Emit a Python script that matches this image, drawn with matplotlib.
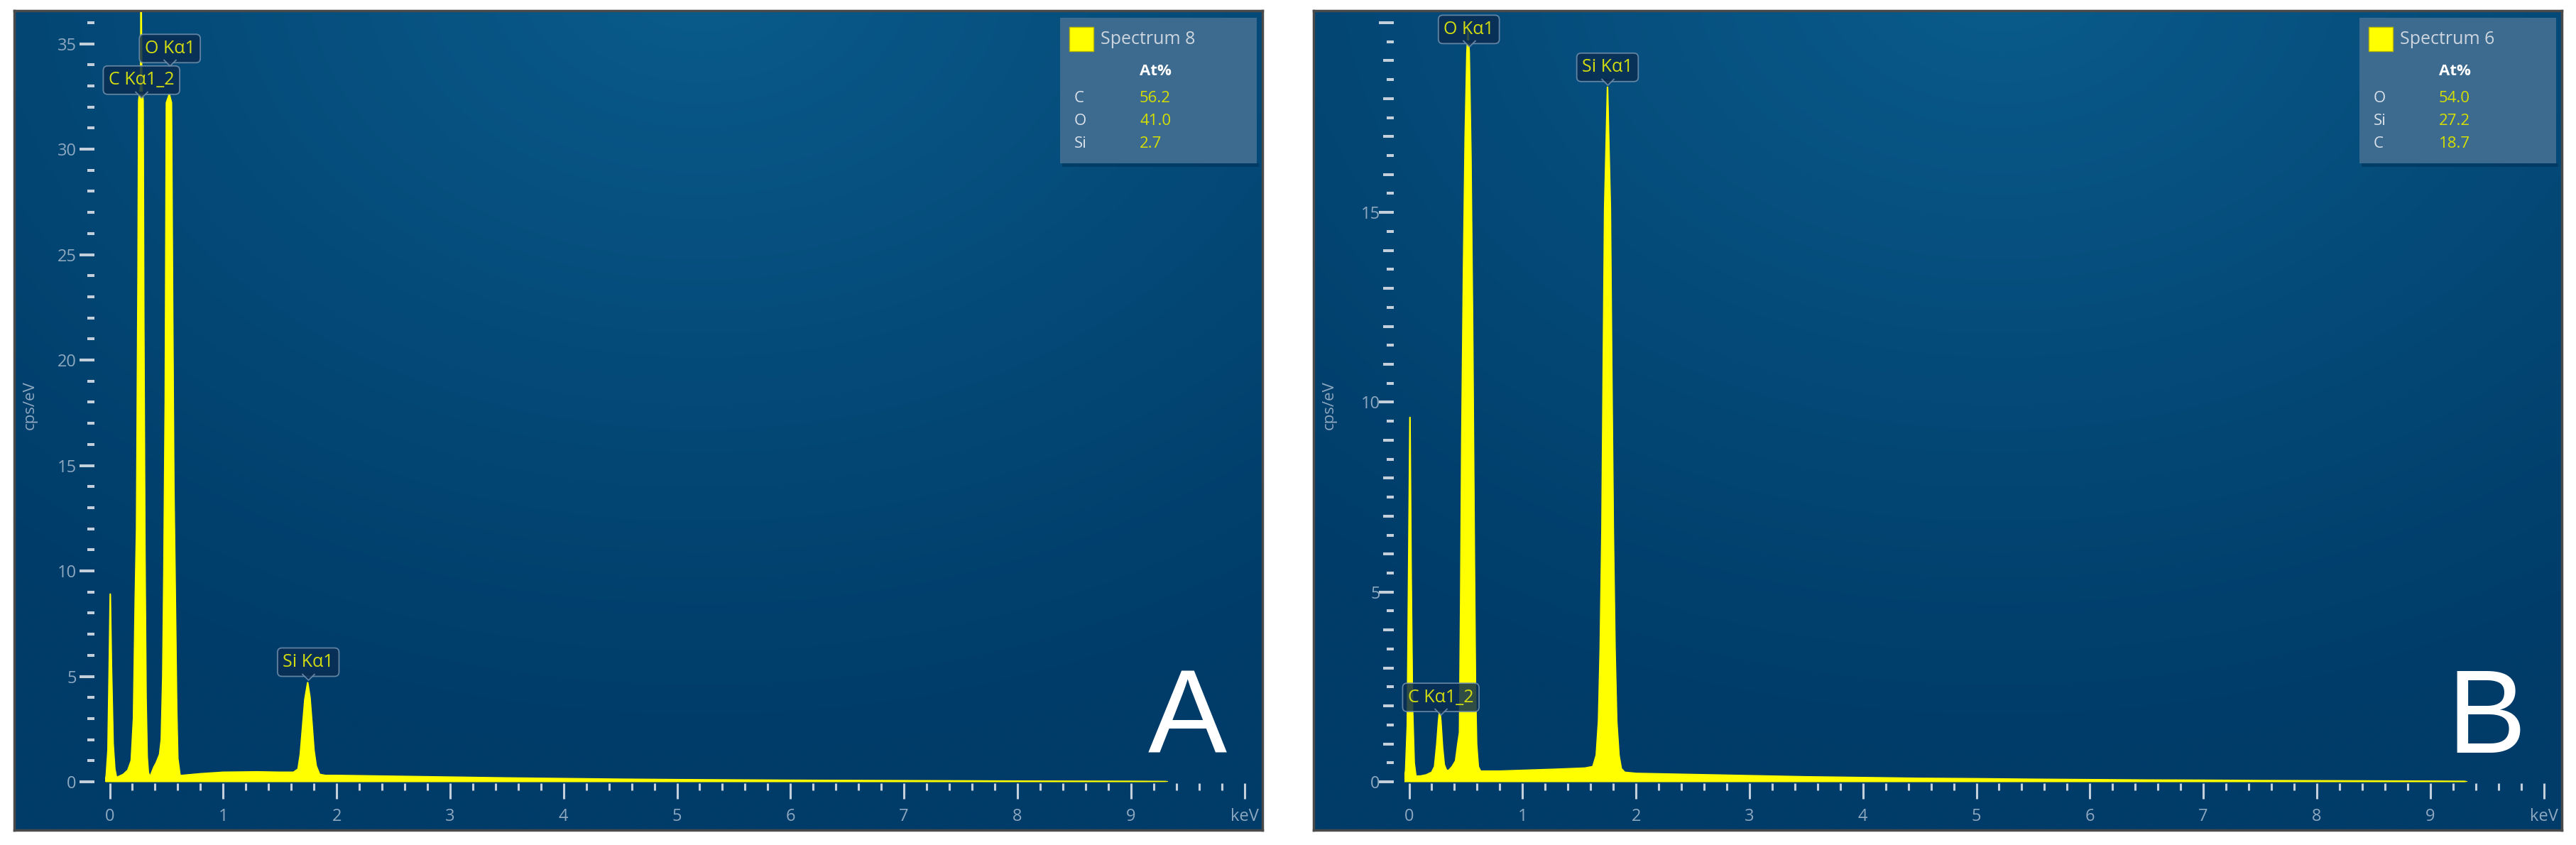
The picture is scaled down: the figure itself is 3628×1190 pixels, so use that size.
import numpy as np
import matplotlib
matplotlib.use("Agg")
import matplotlib.pyplot as plt
from matplotlib.ticker import MultipleLocator, FixedLocator, FuncFormatter
from matplotlib.patches import FancyBboxPatch, Rectangle
from matplotlib.path import Path

plt.rcParams["font.family"] = ["Open Sans", "DejaVu Sans"]

# ---- data ----
a_energy = [-0.04, -0.03, -0.015, -0.005, 0.005, 0.015, 0.03, 0.045, 0.06, 0.08, 0.12, 0.16,
            0.19, 0.21, 0.225, 0.237, 0.25, 0.256, 0.272, 0.277, 0.282, 0.294, 0.30, 0.31,
            0.32, 0.33, 0.34, 0.35, 0.36, 0.39, 0.41, 0.44, 0.455, 0.468, 0.478, 0.49, 0.50,
            0.525, 0.544, 0.555, 0.565, 0.575, 0.59, 0.60, 0.62, 0.64, 0.8, 1.0, 1.3, 1.5,
            1.62, 1.66, 1.68, 1.70, 1.72, 1.745, 1.765, 1.785, 1.80, 1.82, 1.85, 1.9, 2.0,
            2.5, 3.0, 3.5, 4.0, 4.5, 5.0, 5.5, 6.0, 6.5, 7.0, 7.5, 8.0, 8.5, 9.0, 9.3, 9.32]
a_counts = [0.0, 0.3, 1.5, 5.0, 8.9, 5.5, 1.8, 0.6, 0.2, 0.25, 0.35, 0.55,
            1.0, 3.0, 8.5, 12.0, 24.0, 32.3, 33.0, 37.6, 33.0, 32.3, 22.0, 11.0,
            4.0, 1.2, 0.45, 0.3, 0.3, 0.7, 0.9, 1.3, 2.0, 5.0, 10.0, 18.0, 32.2,
            32.6, 32.2, 22.0, 14.0, 10.0, 3.5, 1.1, 0.3, 0.3, 0.38, 0.45, 0.47, 0.45,
            0.45, 0.6, 1.3, 2.6, 3.9, 4.7, 4.0, 2.6, 1.5, 0.75, 0.35, 0.3, 0.3,
            0.26, 0.22, 0.18, 0.15, 0.12, 0.1, 0.085, 0.07, 0.06, 0.05, 0.04, 0.03, 0.025, 0.02, 0.01, 0.0]

b_energy = [-0.045, -0.03, -0.015, -0.005, 0.008, 0.018, 0.03, 0.045, 0.06, 0.1, 0.15, 0.2,
            0.225, 0.245, 0.26, 0.27, 0.28, 0.295, 0.31, 0.33, 0.35, 0.38, 0.41, 0.43, 0.445,
            0.455, 0.465, 0.48, 0.495, 0.51, 0.52, 0.53, 0.545, 0.56, 0.575, 0.585, 0.595,
            0.61, 0.63, 0.8, 1.0, 1.3, 1.55, 1.62, 1.65, 1.67, 1.685, 1.70, 1.712, 1.724,
            1.749, 1.774, 1.786, 1.80, 1.815, 1.83, 1.85, 1.87, 1.9, 2.0, 2.5, 3.0, 3.5,
            4.0, 4.5, 5.0, 5.5, 6.0, 6.5, 7.0, 7.5, 8.0, 8.5, 9.0, 9.3, 9.32]
b_counts = [0.0, 0.3, 1.5, 5.0, 9.6, 5.5, 2.0, 0.5, 0.15, 0.15, 0.18, 0.25,
            0.4, 1.0, 1.6, 1.9, 1.6, 0.9, 0.45, 0.3, 0.3, 0.4, 0.55, 1.0, 1.3,
            4.7, 9.0, 13.5, 17.0, 19.2, 19.8, 19.2, 16.5, 12.0, 6.0, 2.5, 1.0,
            0.4, 0.28, 0.28, 0.3, 0.33, 0.36, 0.4, 0.7, 1.6, 3.5, 6.6, 11.0, 15.1,
            18.3, 15.1, 11.0, 6.6, 3.5, 1.6, 0.7, 0.35, 0.25, 0.22, 0.19, 0.16, 0.13,
            0.11, 0.09, 0.08, 0.065, 0.055, 0.045, 0.04, 0.03, 0.025, 0.02, 0.015, 0.01, 0.0]

a_spectrum = "Spectrum 8"
a_elements = ["C", "O", "Si"]
a_atpct = [56.2, 41.0, 2.7]
a_lines = ["C Kα1_2", "O Kα1", "Si Kα1"]
a_line_kev = [0.28, 0.53, 1.75]

b_spectrum = "Spectrum 6"
b_elements = ["O", "Si", "C"]
b_atpct = [54.0, 27.2, 18.7]
b_lines = ["C Kα1_2", "O Kα1", "Si Kα1"]
b_line_kev = [0.28, 0.527, 1.749]

x_tick_labels = ["0", "1", "2", "3", "4", "5", "6", "7", "8", "9", "keV"]

# ---- layout (pixels) ----
W, H = 3628, 1190
PANEL_X = [20, 1850]
PANEL_Y = 15
PANEL_W, PANEL_H = 1758, 1154
PLOT_L, PLOT_T, PLOT_R, PLOT_B = 128, 2, 1740, 1086
X0_PX, KEV_PX = 134.5, 159.8
PX = 0.72  # points per pixel at dpi 100

TICK_COLOR = "#c3d0dc"
LABEL_COLOR = "#8ea8c0"
YELLOW = "#ffff00"


def rect(x0, y0, w, h):
    return [x0 / W, 1 - (y0 + h) / H, w / W, h / H]


def gradient():
    yy, xx = np.mgrid[0:1:300j, 0:1:300j]
    d = np.sqrt(((xx - 0.55) / 0.85) ** 2 + ((yy + 0.05) / 0.95) ** 2)
    t = np.clip(1 - d, 0, 1) ** 1.1
    dark = np.array([0, 60, 105]) / 255
    light = np.array([10, 92, 140]) / 255
    return dark + (light - dark) * t[..., None]


notch = Path([(-1, 0.5), (0, -0.5), (1, 0.5)], [Path.MOVETO, Path.LINETO, Path.LINETO])


def draw_panel(fig, px, energy, counts, ymax, yminor, ymid, lines, line_kev, label_y,
               spectrum, elements, atpct, letter):
    # background with soft glow
    bg = fig.add_axes(rect(px, PANEL_Y, PANEL_W, PANEL_H), zorder=0)
    bg.imshow(gradient(), extent=[0, 1, 0, 1], aspect="auto", interpolation="bicubic")
    bg.set_xticks([])
    bg.set_yticks([])
    for s in bg.spines.values():
        s.set_color("#4a4a4a")
        s.set_linewidth(2.5)

    ax = fig.add_axes(rect(px + PLOT_L, PANEL_Y + PLOT_T, PLOT_R - PLOT_L, PLOT_B - PLOT_T), zorder=1)
    ax.patch.set_alpha(0)
    ax.set_xlim((PLOT_L - X0_PX) / KEV_PX, (PLOT_R - X0_PX) / KEV_PX)
    ax.set_ylim(0, ymax)

    ax.fill_between(energy, 0, counts, color=YELLOW, lw=0, zorder=2)
    ax.plot(energy, counts, color=YELLOW, lw=1.6, zorder=2)

    for s in ax.spines.values():
        s.set_visible(False)
    ax.spines["left"].set_position(("outward", 15 * PX))
    ax.spines["bottom"].set_position(("outward", 2 * PX))

    ax.xaxis.set_major_locator(FixedLocator(range(11)))
    ax.xaxis.set_minor_locator(MultipleLocator(0.2))
    ax.set_xticklabels(x_tick_labels)
    ax.tick_params(axis="x", which="major", length=22 * PX, width=2.2, color=TICK_COLOR,
                   labelcolor=LABEL_COLOR, labelsize=17, pad=9)
    ax.tick_params(axis="x", which="minor", length=10 * PX, width=2.2, color=TICK_COLOR)

    top_label = 5 * int(ymax // 5)
    fmt = FuncFormatter(lambda v, p: f"{v:.0f}" if v % 5 == 0 and v < top_label + 0.5 and v + 0.5 < ymax else "")
    if ymid:
        ax.yaxis.set_major_locator(MultipleLocator(1))
        ax.yaxis.set_minor_locator(MultipleLocator(0.5))
        ax.tick_params(axis="y", which="major", length=15 * PX, width=2.9, color=TICK_COLOR,
                       labelcolor=LABEL_COLOR, labelsize=17, pad=3)
        locs = ax.yaxis.get_majorticklocs()
        for t, v in zip(ax.yaxis.get_major_ticks(), locs):
            if v % 5 == 0:
                t.tick1line.set_markersize(21 * PX)
    else:
        ax.yaxis.set_major_locator(MultipleLocator(5))
        ax.yaxis.set_minor_locator(MultipleLocator(yminor))
        ax.tick_params(axis="y", which="major", length=21 * PX, width=2.9, color=TICK_COLOR,
                       labelcolor=LABEL_COLOR, labelsize=17, pad=3)
    ax.yaxis.set_major_formatter(fmt)
    ax.tick_params(axis="y", which="minor", length=10 * PX, width=2.9, color=TICK_COLOR)

    # peak labels
    fs = 18
    for i, (name, xk, yb) in enumerate(zip(lines, line_kev, label_y)):
        z = 5 + i
        ax.annotate(name, xy=(xk, yb), xytext=(0, 0.3 * fs), textcoords="offset points",
                    ha="center", va="bottom", fontsize=fs, color="#d2dc10", zorder=z,
                    bbox=dict(boxstyle="round,pad=0.3,rounding_size=0.25", fc="#0a2d52",
                              ec="#7390ad", lw=1.3, alpha=0.85))
        ax.plot([xk], [yb], marker=notch, markersize=13, mfc="#0a2d52", mec="#7390ad",
                mew=1.3, alpha=0.85, ls="none", zorder=z + 0.5, clip_on=False)

    # overlay in panel pixel coordinates
    ov = fig.add_axes(rect(px, PANEL_Y, PANEL_W, PANEL_H), zorder=3)
    ov.set_xlim(0, PANEL_W)
    ov.set_ylim(PANEL_H, 0)
    ov.axis("off")

    ov.text(22, 556, "cps/eV", rotation=90, ha="center", va="center", color=LABEL_COLOR, fontsize=16)

    ov.add_patch(FancyBboxPatch((1473, 10), 277, 205, boxstyle="square,pad=0",
                                fc="#3d6a8f", ec="none", zorder=1))
    ov.add_patch(FancyBboxPatch((1476, 215), 277, 5, boxstyle="square,pad=0",
                                fc="#002f55", ec="none", alpha=0.5, zorder=0.5))
    ov.add_patch(Rectangle((1486, 23), 34, 34, fc=YELLOW, ec="#b8b800", lw=1, zorder=2))
    ov.text(1530, 41, spectrum, ha="left", va="center", color="#cdd6df", fontsize=18, zorder=3)
    ov.text(1585, 85, "At%", ha="left", va="center", color="white", fontsize=16,
            fontweight="bold", zorder=3)
    for j, (el, v) in enumerate(zip(elements, atpct)):
        yy = 123 + j * 32.5
        ov.text(1493, yy, el, ha="left", va="center", color="#dbe2ea", fontsize=16, zorder=3)
        ov.text(1585, yy, f"{v:.1f}", ha="left", va="center", color="#d6e000", fontsize=16, zorder=3)

    ov.text(1652, 1002, letter, ha="center", va="center", color="white", fontsize=120,
            family="Liberation Sans")


fig = plt.figure(figsize=(W / 100, H / 100), dpi=100)

draw_panel(fig, PANEL_X[0], a_energy, a_counts, 36.5, 1, False, a_lines, a_line_kev,
           [32.6, 34.1, 5.0], a_spectrum, a_elements, a_atpct, "A")
draw_panel(fig, PANEL_X[1], b_energy, b_counts, 20.28, 0.5, True, b_lines, b_line_kev,
           [1.85, 19.45, 18.45], b_spectrum, b_elements, b_atpct, "B")

fig.savefig("out.png", dpi=100, facecolor="white")
plt.close(fig)
